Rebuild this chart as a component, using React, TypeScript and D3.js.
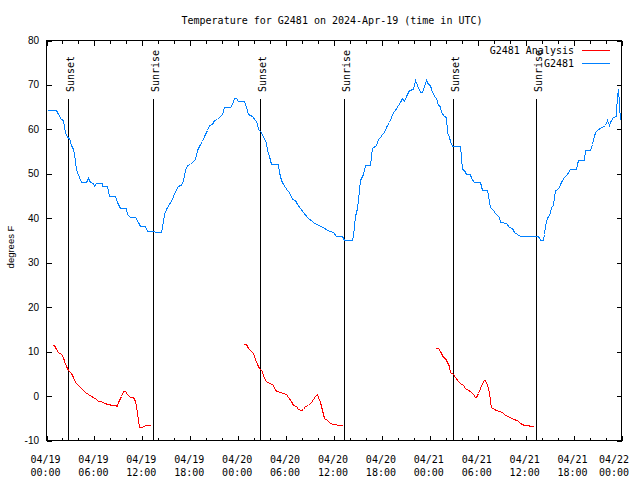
import React from "react";
import * as d3 from "d3";

// Hours since 2024-04-19 00:00 UTC
const obsHours = [
  0.08, 1.25, 1.45, 1.76, 2.01, 2.17, 2.29, 2.58, 2.83, 3.01, 3.26, 3.42, 3.55, 3.67, 3.84, 4.09, 4.26, 4.93,
  5.22, 5.43, 5.84, 5.93, 6.18, 6.9, 6.97, 7.52, 7.85, 8.56, 8.85, 9.19, 9.94, 10.11, 10.44, 11.07, 11.48, 11.7,
  12.32, 12.54, 14.3, 14.42, 14.71, 14.96, 15.37, 15.67, 15.87, 16.21, 16.5, 16.93, 17.13, 17.34, 17.63, 17.97,
  18.31, 18.59, 18.81, 19.13, 19.43, 19.72, 20.06, 20.39, 20.69, 20.98, 21.31, 21.73, 21.94, 22.23, 22.98, 23.19,
  23.48, 23.73, 24.02, 24.77, 24.95, 25.2, 25.7, 26.12, 26.33, 26.53, 26.83, 27.16, 27.46, 27.66, 27.91, 28.08,
  28.34, 29.04, 29.16, 29.34, 29.66, 29.88, 30.17, 30.42, 30.72, 31.13, 31.35, 31.76, 32.17, 32.6, 33.43, 34.05,
  34.68, 35.1, 35.93, 36.27, 36.99, 37.27, 38.24, 38.44, 38.65, 38.87, 39.07, 39.28, 39.62, 39.91, 40.45, 40.62,
  40.82, 41.29, 41.45, 41.7, 42.0, 42.29, 42.54, 42.83, 43.13, 43.38, 43.67, 43.96, 44.21, 44.51, 44.71, 45.05,
  45.34, 45.89, 46.17, 46.39, 46.71, 47.02, 47.22, 47.52, 47.72, 47.97, 48.14, 48.47, 48.81, 48.97, 49.22, 49.4,
  49.72, 50.03, 50.15, 50.35, 50.56, 50.78, 51.82, 51.9, 52.03, 52.32, 52.57, 52.98, 53.16, 53.49, 54.24, 54.54,
  55.17, 55.37, 55.58, 55.92, 56.21, 56.62, 56.83, 57.59, 57.87, 58.3, 58.5, 59.34, 61.43, 61.63, 61.76, 62.19,
  62.35, 62.47, 62.69, 63.01, 63.19, 63.44, 63.6, 63.73, 64.02, 64.27, 64.57, 64.86, 65.2, 65.52, 66.24, 66.45,
  66.52, 67.28, 67.49, 68.03, 68.33, 68.53, 68.74, 69.03, 69.37, 69.99, 70.21, 70.41, 70.62, 70.96, 71.25, 71.37,
  71.46, 71.53, 71.66, 71.78,
];
const obsTemp = [
  64.3, 64.3, 63.5, 62.4, 62.0, 60.5, 59.4, 58.3, 58.1, 56.4, 55.6, 54.7, 53.0, 51.1, 50.4, 49.3, 48.1, 48.1,
  49.1, 48.1, 47.9, 47.2, 48.0, 48.0, 47.2, 47.2, 45.1, 45.1, 43.6, 42.4, 42.4, 41.0, 40.3, 40.3, 39.1, 38.2,
  38.2, 37.1, 37.0, 38.0, 41.0, 42.1, 43.3, 44.4, 45.1, 46.6, 47.2, 47.8, 48.5, 50.8, 51.9, 52.1,
  53.0, 53.4, 55.3, 56.2, 57.5, 58.6, 59.8, 60.9, 61.3, 62.0, 62.4, 62.9, 63.5, 65.0, 65.0, 65.8,
  67.1, 67.1, 66.5, 66.4, 65.0, 63.5, 63.1, 62.2, 61.4, 60.1, 59.4, 58.3, 57.1, 55.3, 54.1, 52.3,
  52.1, 52.1, 50.4, 48.5, 47.8, 47.0, 46.3, 45.9, 44.4, 44.2, 43.3, 42.4, 41.4, 40.3, 39.1, 38.4,
  38.0, 37.3, 36.9, 36.1, 36.1, 35.2, 35.2, 36.1, 40.6, 42.4, 46.3, 48.5, 50.0, 51.9, 51.9, 54.1,
  55.9, 56.4, 57.9, 58.3, 59.0, 59.4, 60.5, 61.6, 62.8, 63.9, 64.4, 65.4, 66.1, 67.1, 66.4, 67.6,
  68.9, 69.1, 71.2, 69.9, 68.4, 68.4, 69.7, 71.2, 70.3, 70.1, 69.1, 67.4, 67.1, 65.4, 65.2, 63.9,
  63.1, 62.8, 59.4, 58.3, 57.5, 56.2, 56.2, 53.8, 51.1, 50.8, 50.0, 50.0, 49.1, 48.1, 48.1, 46.3,
  46.3, 44.0, 42.5, 41.9, 41.2, 40.3, 39.1, 38.9, 38.0, 37.9, 36.9, 36.1, 36.1, 35.8, 35.2, 35.2,
  36.5, 38.6, 40.1, 41.2, 42.5, 42.9, 44.8, 46.3, 46.6, 47.8, 48.5, 49.3, 50.0, 51.1, 51.1, 52.3,
  53.2, 53.2, 55.3, 55.3, 56.8, 58.6, 59.4, 60.1, 60.4, 61.1, 62.0, 61.1, 61.6, 62.8, 63.1, 64.4,
  67.3, 69.1, 65.8, 62.2,
];

// Analysis series; null marks a gap between runs
const anaHours = [
  0.63, 0.92, 1.17, 1.45, 1.76, 2.01, 2.17, 2.42, 2.71, 3.01, 3.26, 3.55, 3.96, 4.26, 4.51, 4.8, 5.22, 5.52,
  5.84, 6.18, 6.47, 6.77, 7.18, 7.72, 8.15, 8.56, 8.78, 8.98, 9.28, 9.53, 9.82, 10.11, 10.44, 10.78, 11.07,
  11.28, 11.48, 11.61, 11.91, 12.32, 12.95, 18.0,
  24.65, 24.99, 25.28, 25.58, 25.83, 26.12, 26.4, 26.66, 26.96, 27.16, 27.5, 27.66, 28.0, 28.33, 28.62, 28.91,
  29.25, 29.59, 30.0, 30.29, 30.59, 30.92, 31.26, 31.54, 31.85, 32.1, 32.38, 32.8, 33.1, 33.35, 33.64, 33.85,
  34.05, 34.27, 34.48, 34.77, 35.1, 35.43, 35.73, 36.27, 36.43, 36.99, 42.0,
  48.68, 48.97, 49.22, 49.4, 49.65, 49.94, 50.15, 50.35, 50.56, 50.9, 51.19, 51.48, 51.82, 52.16, 52.45, 52.73,
  53.07, 53.41, 53.7, 53.82, 53.99, 54.24, 54.54, 54.74, 54.95, 55.16, 55.37, 55.49, 55.71, 56.0, 56.33, 56.62,
  57.05, 57.34, 57.68, 58.0, 58.43, 58.93, 59.34, 59.75, 60.26, 60.6, 60.94,
];
const anaTemp: (number | null)[] = [
  11.4, 11.4, 10.6, 9.9, 9.4, 8.8, 7.9, 6.7, 5.9, 5.2, 4.3, 3.1, 2.6, 1.9, 1.4, 0.9, 0.4, 0.1,
  -0.1, -0.6, -1.0, -1.2, -1.6, -1.7, -1.9, -2.1, -2.3, -1.4, 0.1, 1.1, 1.1, 0.5, -0.1, -0.2, -1.0,
  -3.6, -5.3, -7.0, -7.0, -6.6, -6.4, null,
  11.8, 11.8, 10.9, 10.1, 9.7, 8.4, 7.3, 6.4, 5.6, 4.6, 3.5, 3.1, 2.9, 2.4, 1.4, 1.1,
  0.9, 0.7, 0.5, -0.2, -1.0, -1.9, -2.3, -2.9, -3.1, -2.9, -2.3, -1.9, -1.4, -0.6, 0.1, 0.4,
  -0.2, -1.4, -3.2, -4.9, -5.5, -5.9, -6.2, -6.2, -6.4, -6.4, null,
  10.9, 10.9, 10.1, 9.7, 8.8, 8.6, 7.6, 6.7, 5.4, 5.0, 4.3, 3.5, 2.9, 2.6, 1.9, 1.3,
  1.1, 0.5, -0.1, -0.2, 0.7, 1.9, 2.9, 3.7, 3.7, 2.4, 0.9, -1.0, -2.5, -2.9, -3.1, -3.4,
  -3.6, -4.0, -4.4, -4.7, -5.1, -5.5, -6.1, -6.6, -6.6, -6.8, -6.8,
];

const sunEventHours = [2.7, 13.37, 26.74, 37.31, 50.85, 61.35];
const sunEventLabels = ["Sunset", "Sunrise", "Sunset", "Sunrise", "Sunset", "Sunrise"];

const yTicks = [-10, 0, 10, 20, 30, 40, 50, 60, 70, 80];
const xLabelHours = [0, 6, 12, 18, 24, 30, 36, 42, 48, 54, 60, 66, 72];
const seriesNames = ["G2481 Analysis", "G2481"];
const seriesColors = ["#ff0000", "#0080ff"];

const titleText = "Temperature for G2481 on 2024-Apr-19 (time in UTC)";
const yLabel = "degrees F";

const T0 = Date.UTC(2024, 3, 19);
const toDate = (h: number) => new Date(T0 + h * 3600 * 1000);

export default function App() {
  const W = 640, H = 480;
  const left = 46.5, right = 621.5, top = 40.5, bottom = 440.5;
  const mono = "'DejaVu Sans Mono', monospace";
  const sans = "'Liberation Sans', Arial, sans-serif";

  const x = d3.scaleUtc().domain([toDate(0), toDate(72)]).range([left, right]);
  const y = d3.scaleLinear().domain([-10, 80]).range([bottom, top]);

  const obsData = obsHours.map((h, i) => ({ t: toDate(h), v: obsTemp[i] as number | null }));
  const anaData = anaHours.map((h, i) => ({ t: toDate(h), v: anaTemp[i] }));

  const line = d3
    .line<{ t: Date; v: number | null }>()
    .defined((d) => d.v !== null)
    .x((d) => Math.round(x(d.t)) + 0.5)
    .y((d) => Math.round(y(d.v as number)) + 0.5);

  const minorTicks = d3.range(0, 73, 2);
  const fmtDay = d3.utcFormat("%m/%d");
  const fmtTime = d3.utcFormat("%H:%M");

  const px = (v: number) => Math.round(v) + 0.5;

  return (
    <svg
      width={W}
      height={H}
      style={{ position: "absolute", left: 0, top: 0, background: "#fff" }}
      xmlns="http://www.w3.org/2000/svg"
    >
      <rect x={0} y={0} width={W} height={H} fill="#fff" />
      <text x={332} y={24} fontFamily={mono} fontSize={10} textAnchor="middle" fill="#000">
        {titleText}
      </text>

      {/* ticks */}
      <g stroke="#000" strokeWidth={1} shapeRendering="crispEdges">
        {minorTicks.map((h) => {
          const xx = px(x(toDate(h)));
          const len = h % 6 === 0 ? 5 : 3;
          return (
            <g key={"xt" + h}>
              <line x1={xx} x2={xx} y1={bottom} y2={bottom - len} />
              <line x1={xx} x2={xx} y1={top} y2={top + len} />
            </g>
          );
        })}
        {yTicks.map((v) => {
          const yy = px(y(v));
          return (
            <g key={"yt" + v}>
              <line x1={left} x2={left + 5} y1={yy} y2={yy} />
              <line x1={right} x2={right - 5} y1={yy} y2={yy} />
            </g>
          );
        })}
      </g>

      {/* y tick labels */}
      {yTicks.map((v) => (
        <text key={"yl" + v} x={39} y={y(v) + 3.5} fontFamily={sans} fontSize={10} textAnchor="end" fill="#000">
          {v}
        </text>
      ))}

      {/* x tick labels */}
      {xLabelHours.map((h) => {
        const d = toDate(h);
        const xx = Math.min(x(d) - 1, 614);
        return (
          <text key={"xl" + h} fontFamily={mono} fontSize={10} textAnchor="middle" fill="#000">
            <tspan x={xx} y={463}>{fmtDay(d)}</tspan>
            <tspan x={xx} y={476}>{fmtTime(d)}</tspan>
          </text>
        );
      })}

      <text
        transform={`translate(14,247) rotate(-90)`}
        fontFamily={sans}
        fontSize={9.5}
        textAnchor="middle"
        fill="#000"
      >
        {yLabel}
      </text>

      {/* sun events */}
      {sunEventHours.map((h, i) => {
        const xx = px(x(toDate(h)));
        return (
          <g key={"sun" + i}>
            <line x1={xx} x2={xx} y1={top + 58} y2={bottom} stroke="#000" strokeWidth={1} shapeRendering="crispEdges" />
            <text
              transform={`translate(${xx + 5},92) rotate(-90)`}
              fontFamily={mono}
              fontSize={10}
              textAnchor="start"
              fill="#000"
            >
              {sunEventLabels[i]}
            </text>
          </g>
        );
      })}

      {/* data */}
      <path d={line(anaData) || ""} fill="none" stroke={seriesColors[0]} strokeWidth={1} shapeRendering="crispEdges" />
      <path d={line(obsData) || ""} fill="none" stroke={seriesColors[1]} strokeWidth={1} shapeRendering="crispEdges" />

      {/* legend */}
      {seriesNames.map((name, i) => {
        const yy = 50 + i * 13;
        return (
          <g key={"lg" + i}>
            <text x={574} y={yy + 3.5} fontFamily={mono} fontSize={10} textAnchor="end" fill="#000">
              {name}
            </text>
            <line x1={582} x2={610} y1={yy + 0.5} y2={yy + 0.5} stroke={seriesColors[i]} strokeWidth={1} shapeRendering="crispEdges" />
          </g>
        );
      })}

      {/* border */}
      <rect
        x={left}
        y={top}
        width={right - left}
        height={bottom - top}
        fill="none"
        stroke="#000"
        strokeWidth={1}
        shapeRendering="crispEdges"
      />
    </svg>
  );
}
